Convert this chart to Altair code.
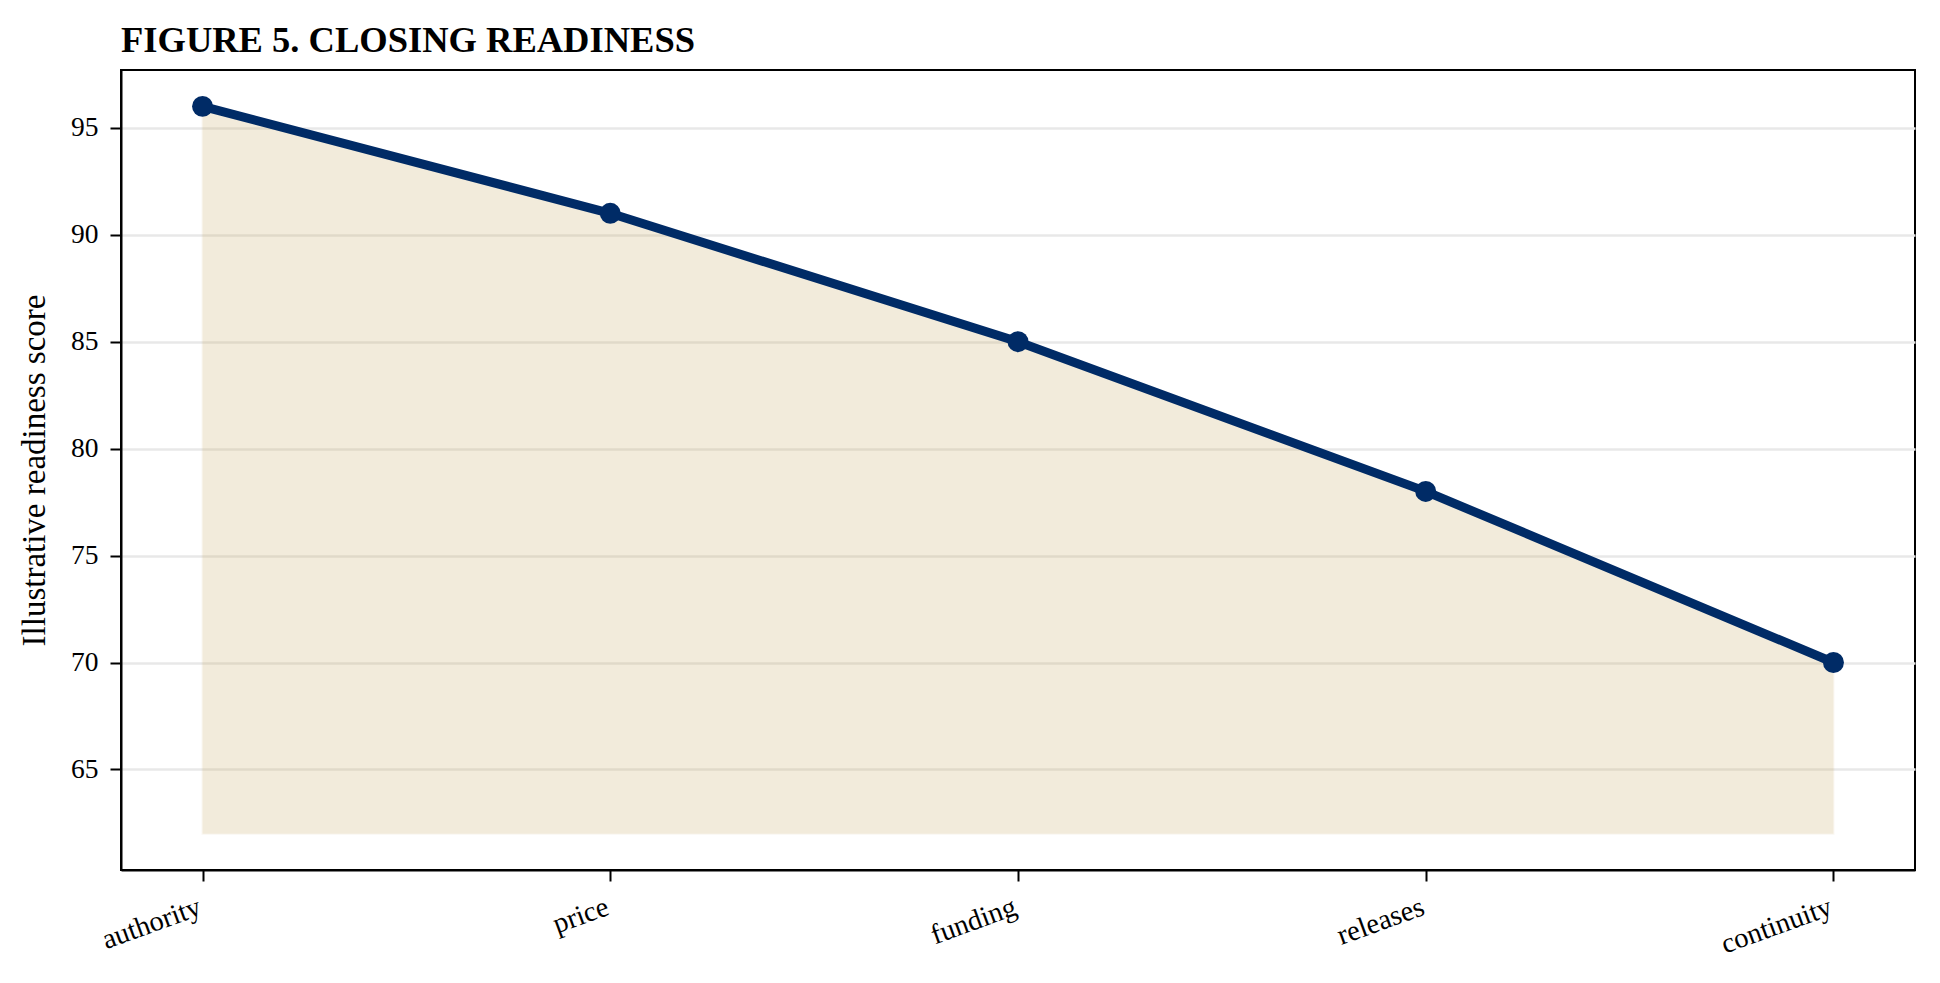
import altair as alt
import pandas as pd

categories = ["authority", "price", "funding", "releases", "continuity"]
scores = [96, 91, 85, 78, 70]
area_base = 62
y_ticks = [65, 70, 75, 80, 85, 90, 95]

df = pd.DataFrame({"stage": categories, "score": scores})

NAVY = "#002b66"
TAN = "#c3a050"
FONT = "Liberation Serif"

x_enc = alt.X(
    "stage:N",
    sort=categories,
    scale=alt.Scale(type="point", padding=0.2),
    axis=alt.Axis(
        title=None,
        labelAngle=340,
        labelAlign="right",
        labelBaseline="top",
        labelOffset=-8,
        labelPadding=11,
        labelFontSize=28.5,
        grid=False,
    ),
)
y_enc = alt.Y(
    "score:Q",
    scale=alt.Scale(domain=[60.3, 97.7], nice=False, zero=False),
    axis=alt.Axis(
        title="Illustrative readiness score",
        values=y_ticks,
        grid=True,
        titlePadding=19,
        labelPadding=12,
        labelFontSize=27.5,
    ),
)

area = alt.Chart(df).mark_area(
    color=TAN, opacity=0.2, stroke=TAN, strokeOpacity=0.35, strokeWidth=2
).encode(x=x_enc, y=y_enc, y2=alt.Y2(datum=area_base))

line = alt.Chart(df).mark_line(color=NAVY, strokeWidth=9).encode(x=x_enc, y=y_enc)

pts = alt.Chart(df).mark_circle(color=NAVY, size=440, opacity=1).encode(x=x_enc, y=y_enc)

chart = (
    alt.layer(area, line, pts)
    .properties(
        width=1794,
        height=800,
        title=alt.TitleParams(
            "FIGURE 5. CLOSING READINESS",
            anchor="start",
            frame="group",
            font=FONT,
            fontSize=36.5,
            fontWeight="bold",
            color="black",
            baseline="alphabetic",
            offset=-18,
        ),
        autosize=alt.AutoSizeParams(type="none"),
        padding={"left": 113, "top": 62, "right": 17, "bottom": 105},
    )
    .configure_view(stroke="black", strokeWidth=2)
    .configure_axis(
        labelFont=FONT,
        titleFont=FONT,
        titleFontSize=33,
        titleFontWeight="normal",
        labelColor="black",
        titleColor="black",
        domainColor="black",
        domainWidth=2,
        tickColor="black",
        tickWidth=2,
        tickSize=11,
        gridColor="#e8e8e8",
        gridWidth=2.5,
    )
)

chart.save("out.html", embed_options={"renderer": "svg", "actions": False})
